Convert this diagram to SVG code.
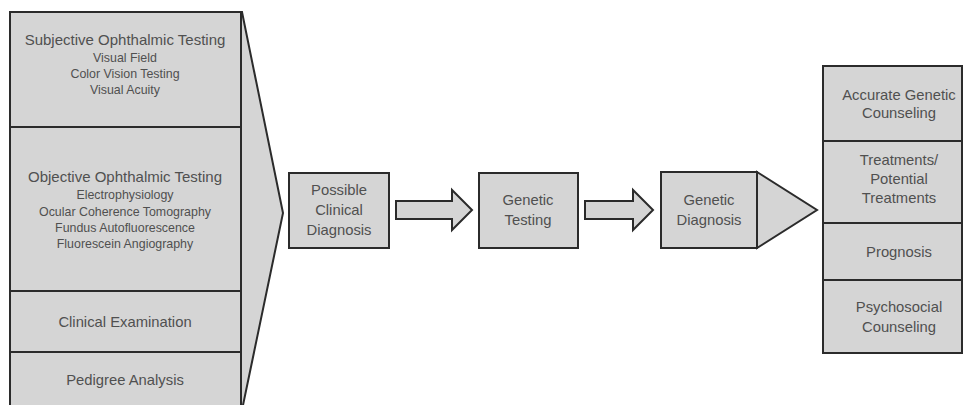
<svg xmlns="http://www.w3.org/2000/svg" width="963" height="405" viewBox="0 0 963 405">
<style>
.box{fill:#d5d5d5;stroke:#2b2b2b;stroke-width:2}
.t{font-family:"Liberation Sans",Arial,sans-serif;fill:#505050;text-anchor:middle}
.h{font-size:15px}
.s{font-size:12.4px}
.m{font-size:14.8px}
</style>
<rect width="963" height="405" fill="#fff"/>
<g id="chevron">
<polygon class="box" points="10,12 242,12 283,213 242,410 10,410"/>
</g>
<g id="subjective">
<rect class="box" x="10" y="12" width="231" height="115"/>
<text class="t h" x="125" y="45">Subjective Ophthalmic Testing</text>
<text class="t s" x="125" y="62">Visual Field</text>
<text class="t s" x="125" y="78">Color Vision Testing</text>
<text class="t s" x="125" y="94">Visual Acuity</text>
</g>
<g id="objective">
<rect class="box" x="10" y="127" width="231" height="164"/>
<text class="t h" x="125" y="182">Objective Ophthalmic Testing</text>
<text class="t s" x="125" y="199">Electrophysiology</text>
<text class="t s" x="125" y="216">Ocular Coherence Tomography</text>
<text class="t s" x="125" y="232">Fundus Autofluorescence</text>
<text class="t s" x="125" y="248">Fluorescein Angiography</text>
</g>
<g id="clinical">
<rect class="box" x="10" y="291" width="231" height="61"/>
<text class="t m" x="125" y="327">Clinical Examination</text>
</g>
<g id="pedigree">
<rect class="box" x="10" y="352" width="231" height="60"/>
<text class="t m" x="125" y="385">Pedigree Analysis</text>
</g>
<g id="possible">
<rect class="box" x="289" y="173" width="100" height="75"/>
<text class="t m" x="339" y="195">Possible</text>
<text class="t m" x="339" y="215">Clinical</text>
<text class="t m" x="339" y="235">Diagnosis</text>
</g>
<g id="gtesting">
<rect class="box" x="479" y="173" width="99" height="75"/>
<text class="t m" x="528" y="205">Genetic</text>
<text class="t m" x="528" y="225">Testing</text>
</g>
<g id="gdiagnosis">
<polygon class="box" points="757,172 817,210 757,248"/>
<rect class="box" x="661" y="172" width="96" height="76"/>
<text class="t m" x="709" y="205">Genetic</text>
<text class="t m" x="709" y="225">Diagnosis</text>
</g>
<g id="connectors">
<polygon class="box" points="396,201 452,201 452,190 472,210 452,230 452,219 396,219"/>
<polygon class="box" points="585,201 633,201 633,190 653,210 633,230 633,219 585,219"/>
</g>
<g id="counseling">
<rect class="box" x="823" y="66" width="139" height="75"/>
<text class="t m" x="899" y="100">Accurate Genetic</text>
<text class="t m" x="899" y="118">Counseling</text>
</g>
<g id="treatments">
<rect class="box" x="823" y="141" width="139" height="82"/>
<text class="t m" x="899" y="165">Treatments/</text>
<text class="t m" x="899" y="184">Potential</text>
<text class="t m" x="899" y="203">Treatments</text>
</g>
<g id="prognosis">
<rect class="box" x="823" y="223" width="139" height="57"/>
<text class="t m" x="899" y="257">Prognosis</text>
</g>
<g id="psychosocial">
<rect class="box" x="823" y="280" width="139" height="73"/>
<text class="t m" x="899" y="312">Psychosocial</text>
<text class="t m" x="899" y="332">Counseling</text>
</g>
</svg>
